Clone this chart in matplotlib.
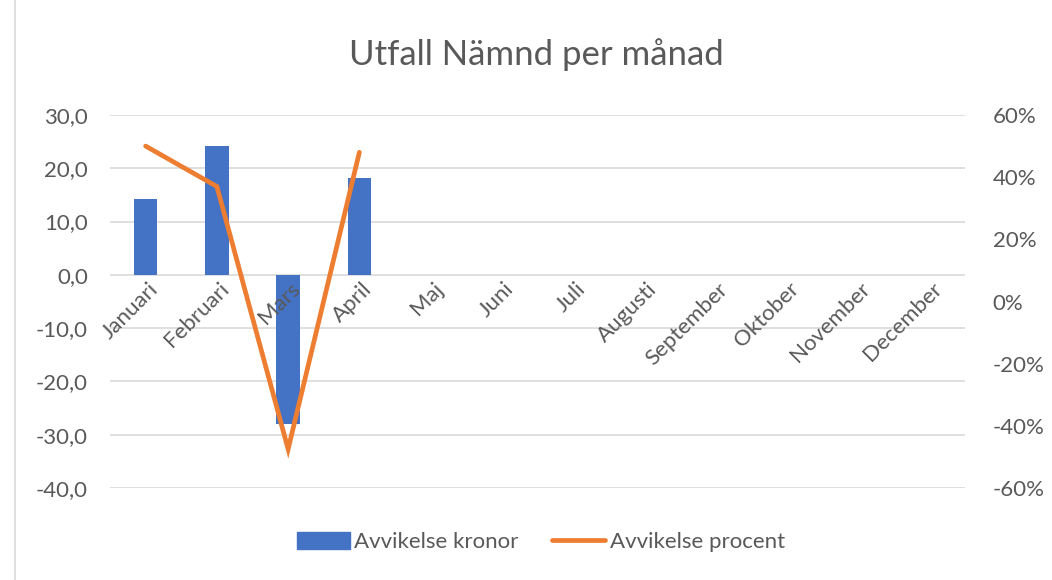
import matplotlib.pyplot as plt
import numpy as np
from matplotlib.patches import Rectangle
from matplotlib.lines import Line2D
from matplotlib.transforms import offset_copy

plt.rcParams['font.family'] = ['Lato', 'DejaVu Sans']

################################################################################
# data ----
################################################################################

months = ['Januari', 'Februari', 'Mars', 'April', 'Maj', 'Juni', 'Juli',
          'Augusti', 'September', 'Oktober', 'November', 'December']
avvikelse_kronor = [14.2, 24.2, -28.0, 18.1]
avvikelse_procent = [0.50, 0.37, -0.475, 0.48]

left_ticks = [-40, -30, -20, -10, 0, 10, 20, 30]
right_ticks = [-0.6, -0.4, -0.2, 0.0, 0.2, 0.4, 0.6]

################################################################################
# plot ----
################################################################################

blue = '#4472C4'
orange = '#ED7D31'
grid = '#D9D9D9'
txt = '#595959'
fs = 16

fig = plt.figure(figsize=(10.52, 5.80), dpi=100)
fig.patches.append(Rectangle((0.014, -0.01), 1.0, 1.02, transform=fig.transFigure,
                             fill=False, edgecolor='#D9D9D9', linewidth=1.2))

ax = fig.add_axes([110 / 1052, 1 - 488 / 580, (965 - 110) / 1052, (488 - 115) / 580])
ax2 = ax.twinx()

x = np.arange(len(months))
ax.bar(x[:len(avvikelse_kronor)], avvikelse_kronor, width=0.33, color=blue, zorder=2)
ax2.plot(x[:len(avvikelse_procent)], avvikelse_procent, color=orange, linewidth=3.4,
         solid_capstyle='round', solid_joinstyle='miter', zorder=3)

ax.set_xlim(-0.5, len(months) - 0.5)
ax.set_ylim(-40, 30)
ax.set_yticks(left_ticks)
ax.set_yticklabels([f'{t:.1f}'.replace('.', ',') for t in left_ticks])
ax2.set_ylim(-0.6, 0.6)
ax2.set_yticks(right_ticks)
ax2.set_yticklabels([f'{round(t * 100)}%' for t in right_ticks])

for t in left_ticks:
    ax.axhline(t, color=grid, linewidth=1.2, zorder=0)

for a in (ax, ax2):
    for s in a.spines.values():
        s.set_visible(False)
    a.tick_params(length=0, labelsize=fs, colors=txt)
ax.tick_params(axis='y', pad=16)
ax2.tick_params(axis='y', pad=20)
ax.set_xticks([])

# month labels sit on the zero line, drawn over the bars
lab_tr = offset_copy(ax.transData, fig=fig, x=2, y=-4, units='dots')
for i, m in enumerate(months):
    ax.text(i, 0, m, rotation=45, ha='right', va='top', rotation_mode='anchor',
            fontsize=fs, color=txt, transform=lab_tr, zorder=3)

ax2.set_zorder(ax.get_zorder() + 1)
ax2.patch.set_visible(False)

fig.text(0.510, 1 - 55 / 580, 'Utfall Nämnd per månad', ha='center', va='center',
         fontsize=25, color=txt)

handles = [Rectangle((0, 0), 1, 1, color=blue),
           Line2D([0], [0], color=orange, linewidth=3.4, solid_capstyle='round')]
fig.legend(handles, ['Avvikelse kronor', 'Avvikelse procent'], loc='center',
           bbox_to_anchor=(0.514, 1 - 542 / 580), ncol=2, frameon=False,
           fontsize=fs, labelcolor=txt, handlelength=2.4, handleheight=0.8,
           handletextpad=0.2, columnspacing=1.5)

fig.savefig('out.png', dpi=100)
